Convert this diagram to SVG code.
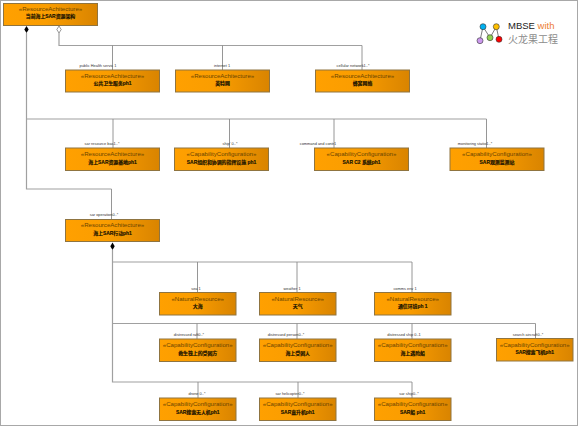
<svg xmlns="http://www.w3.org/2000/svg" width="578" height="426" viewBox="0 0 578 426">
<style>
.box{fill:url(#g);stroke:#8f7440;stroke-width:1}
.s{font:6.100px "Liberation Sans","Noto Sans CJK SC",sans-serif;fill:#6b4400;text-anchor:middle}
.n{font:bold 4.900px "Liberation Sans","Noto Sans CJK SC",sans-serif;fill:#141000;text-anchor:middle;stroke:#141000;stroke-width:.15}
.l{font:3.900px "Liberation Sans",sans-serif;fill:#333;text-anchor:middle}
.c{fill:none;stroke:#a0a0a0;stroke-width:1.200}
.e{fill:none;stroke:#8a8a8a;stroke-width:.9}
</style>
<defs>
<linearGradient id="g" x1="0" x2="1" y1="0" y2="0"><stop offset="0" stop-color="#ffa000"/><stop offset=".45" stop-color="#fa9d00"/><stop offset="1" stop-color="#d98400"/></linearGradient>
</defs>
<rect x="0.5" y="0.5" width="577" height="425" fill="#fff" stroke="#a8a8a8" stroke-width="1"/>
<g id="connectors">
<path class="c" d="M59 33V45.500H362M26.500 33V189H111.500M26.500 119H486.500M112.500 250V382H412M112.500 262H412M112.500 323.500H535.500"/>
<path class="e" d="M362 45.500V70M112.500 45.500V70M222.500 45.500V70M111.500 189V219M486.500 119V148M113 119V148M229.500 119V148M334 119V148M412 382V398M412 262V292M197.500 262V292M297 262V292M535.500 323.500V338M197 323.500V339M297 323.500V339M412 323.500V339M198 382V398M298 382V398"/>
<path d="M59 26l2.200 3.500-2.200 3.500-2.200-3.500z" fill="#fff" stroke="#555" stroke-width=".6"/>
<path d="M26.500 26l2.200 3.500-2.200 3.500-2.200-3.500z" fill="#000"/>
<path d="M112.500 242.500l2.200 3.700-2.200 3.700-2.200-3.700z" fill="#000"/>
<g>
<text class="l" x="98" y="66.500">public Health servic 1</text>
<text class="l" x="222" y="66.500">internet 1</text>
<text class="l" x="353" y="66.500">cellular network1..*</text>
<text class="l" x="102" y="145">sar resource bas1..*</text>
<text class="l" x="230" y="145">ship' 0..*</text>
<text class="l" x="318" y="145">command and contr1</text>
<text class="l" x="475" y="145">monitoring statio1..*</text>
<text class="l" x="104" y="216">sar operation0..*</text>
<text class="l" x="196" y="289.500">sea 1</text>
<text class="l" x="292" y="289.500">weather 1</text>
<text class="l" x="405" y="289.500">comms env 1</text>
<text class="l" x="189" y="336">distressed raft0..*</text>
<text class="l" x="286" y="336">distressed person0..*</text>
<text class="l" x="404" y="336">distressed ship 0..1</text>
<text class="l" x="528" y="335.500">search aircraft0..*</text>
<text class="l" x="197" y="395">drone 0..*</text>
<text class="l" x="290" y="395">sar helicopter0..*</text>
<text class="l" x="409" y="395">sar ship0..*</text>
</g>
</g>
<g id="n1"><rect class="box" x="3.500" y="3.500" width="94" height="22"/><text class="s" x="50.500" y="11">«ResourceAchitecture»</text><text class="n" x="50.500" y="18">当前海上SAR资源架构</text></g>
<g id="n2"><rect class="box" x="65.500" y="70" width="94" height="22"/><text class="s" x="112.500" y="77.500">«ResourceAchitecture»</text><text class="n" x="112.500" y="85">公共卫生服务ph1</text></g>
<g id="n3"><rect class="box" x="175.500" y="70" width="94" height="22"/><text class="s" x="222.500" y="77.500">«ResourceAchitecture»</text><text class="n" x="222.500" y="85">英特网</text></g>
<g id="n4"><rect class="box" x="315.500" y="70" width="94" height="22"/><text class="s" x="362.500" y="77.500">«ResourceAchitecture»</text><text class="n" x="362.500" y="85">蜂窝网络</text></g>
<g id="n5"><rect class="box" x="65.500" y="148" width="94" height="22.500"/><text class="s" x="112.500" y="156">«ResourceAchitecture»</text><text class="n" x="112.500" y="163.500">海上SAR资源基地ph1</text></g>
<g id="n6"><rect class="box" x="174.500" y="148" width="94" height="22.500"/><text class="s" x="221.500" y="156">«CapabilityConfiguration»</text><text class="n" x="221.500" y="163.500">SAR组织和协调的指挥设施 ph1</text></g>
<g id="n7"><rect class="box" x="314.500" y="148" width="94" height="22.500"/><text class="s" x="361.500" y="156">«CapabilityConfiguration»</text><text class="n" x="361.500" y="163.500">SAR C2 系统ph1</text></g>
<g id="n8"><rect class="box" x="450" y="148" width="94" height="22.500"/><text class="s" x="497" y="156">«CapabilityConfiguration»</text><text class="n" x="497" y="163.500">SAR观测监测站</text></g>
<g id="n9"><rect class="box" x="65.500" y="219.500" width="94" height="22"/><text class="s" x="112.500" y="227">«ResourceAchitecture»</text><text class="n" x="112.500" y="234.500">海上SAR行动ph1</text></g>
<g id="n10"><rect class="box" x="159.500" y="292.500" width="76.500" height="22.500"/><text class="s" x="197.700" y="300.500">«NaturalResource»</text><text class="n" x="197.700" y="308">大海</text></g>
<g id="n11"><rect class="box" x="259.500" y="292.500" width="76.500" height="22.500"/><text class="s" x="297.700" y="300.500">«NaturalResource»</text><text class="n" x="297.700" y="308">天气</text></g>
<g id="n12"><rect class="box" x="374.500" y="292.500" width="76.500" height="22.500"/><text class="s" x="412.700" y="300.500">«NaturalResource»</text><text class="n" x="412.700" y="308">通信环境ph 1</text></g>
<g id="n13"><rect class="box" x="159.500" y="339" width="76.500" height="22.500"/><text class="s" x="197.700" y="347">«CapabilityConfiguration»</text><text class="n" x="197.700" y="354.500">救生筏上的受困方</text></g>
<g id="n14"><rect class="box" x="259.500" y="339" width="76.500" height="22.500"/><text class="s" x="297.700" y="347">«CapabilityConfiguration»</text><text class="n" x="297.700" y="354.500">海上受困人</text></g>
<g id="n15"><rect class="box" x="374.500" y="339" width="76.500" height="22.500"/><text class="s" x="412.700" y="347">«CapabilityConfiguration»</text><text class="n" x="412.700" y="354.500">海上遇险船</text></g>
<g id="n16"><rect class="box" x="496.500" y="338.500" width="76.500" height="22.500"/><text class="s" x="534.700" y="346.500">«CapabilityConfiguration»</text><text class="n" x="534.700" y="354">SAR搜索飞机ph1</text></g>
<g id="n17"><rect class="box" x="159.500" y="398" width="76.500" height="22.500"/><text class="s" x="197.700" y="406">«CapabilityConfiguration»</text><text class="n" x="197.700" y="413.500">SAR搜索无人机ph1</text></g>
<g id="n18"><rect class="box" x="259.500" y="398" width="76.500" height="22.500"/><text class="s" x="297.700" y="406">«CapabilityConfiguration»</text><text class="n" x="297.700" y="413.500">SAR直升机ph1</text></g>
<g id="n19"><rect class="box" x="374.500" y="398" width="76.500" height="22.500"/><text class="s" x="412.700" y="406">«CapabilityConfiguration»</text><text class="n" x="412.700" y="413.500">SAR船 ph1</text></g>
<g id="logo">
<path d="M480 40.700L483 26.700L490 37.700L496.300 26.700L499 39.300" fill="none" stroke="#444" stroke-width=".7"/>
<g stroke="#333" stroke-width=".6"><circle cx="483" cy="26.700" r="3" fill="#00b0f0"/><circle cx="496.300" cy="26.700" r="3" fill="#ffc000"/><circle cx="480" cy="40.700" r="3" fill="#cc99ee"/><circle cx="490" cy="37.700" r="3" fill="#92d050"/><circle cx="499" cy="39.300" r="3" fill="#ff0000"/></g>
<text x="508" y="28.500" font-family="Liberation Sans,sans-serif" font-size="9.500" fill="#222">MBSE <tspan fill="#ed7d31">with</tspan></text>
<text x="508" y="43" font-family="Noto Sans CJK SC,sans-serif" font-size="10" fill="#8c8c8c">火龙果工程</text>
</g>
</svg>
